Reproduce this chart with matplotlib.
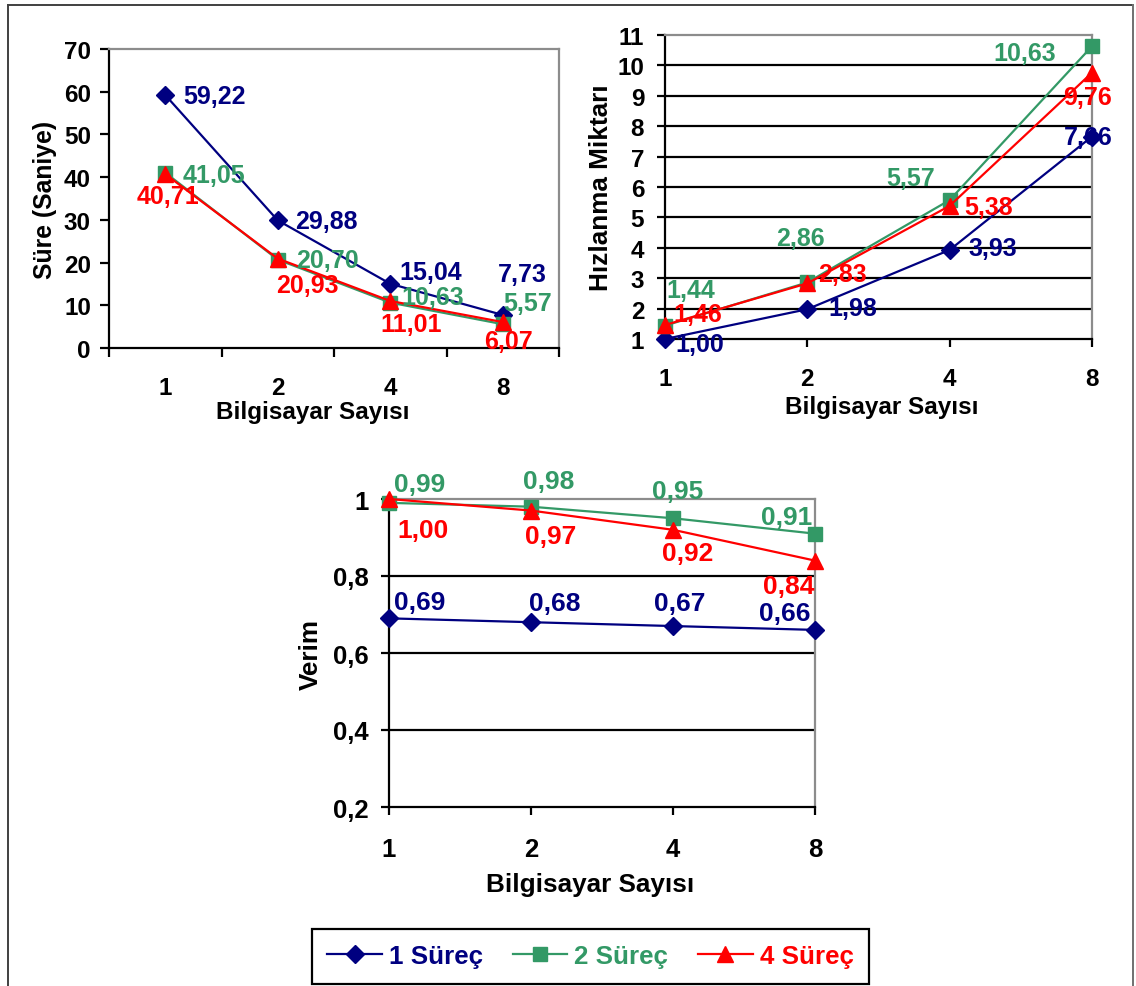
import matplotlib
matplotlib.use("Agg")
import matplotlib.pyplot as plt
from matplotlib.lines import Line2D

plt.rcParams['font.family'] = ['Liberation Sans', 'DejaVu Sans']
plt.rcParams['font.weight'] = 'bold'

W, H, DPI = 1136, 987, 100
PT = 72.0 / DPI  # pixels -> points

# ---- data ----
categories = ['1', '2', '4', '8']
series_names = ['1 Süreç', '2 Süreç', '4 Süreç']

sure_1 = [59.22, 29.88, 15.04, 7.73]
sure_2 = [41.05, 20.70, 10.63, 5.57]
sure_4 = [40.71, 20.93, 11.01, 6.07]

hiz_1 = [1.00, 1.98, 3.93, 7.66]
hiz_2 = [1.44, 2.86, 5.57, 10.63]
hiz_4 = [1.46, 2.83, 5.38, 9.76]

verim_1 = [0.69, 0.68, 0.67, 0.66]
verim_2 = [0.99, 0.98, 0.95, 0.91]
verim_4 = [1.00, 0.97, 0.92, 0.84]

sure_ticks = [0, 10, 20, 30, 40, 50, 60, 70]
hiz_ticks = [1, 2, 3, 4, 5, 6, 7, 8, 9, 10, 11]
verim_ticks = [0.2, 0.4, 0.6, 0.8, 1.0]
verim_tick_labels = ['0,2', '0,4', '0,6', '0,8', '1']

# ---- styles ----
colors = ['#000080', '#339966', '#FF0000']
markers = ['D', 's', '^']
msizes = [9.5, 10, 11.5]
LW = 1.6

# data-label offsets in pixels (dx to the right, dy downward), per series
sure_offsets = [
    [(49, 1), (49, 1), (40, -12), (20, -41)],
    [(49, 2), (50, 0), (42, -6), (25, -21)],
    [(3, 22), (30, 26), (21, 23), (6, 19)],
]
hiz_offsets = [
    [(35, 5), (45, -1), (43, -2), (-4, 0)],
    [(26, -36), (-7, -44), (-39, -22), (-67, 7)],
    [(33, -11), (35, -9), (39, 1), (-5, 24)],
]
verim_offsets = [
    [(31, -16), (24, -19), (7, -23), (-30, -17)],
    [(31, -19), (18, -26), (5, -27), (-28, -17)],
    [(34, 31), (20, 25), (15, 23), (-26, 25)],
]

fig = plt.figure(figsize=(W / DPI, H / DPI), dpi=DPI)


def add_axes_px(left, top, right, bottom):
    return fig.add_axes([left / W, 1 - bottom / H, (right - left) / W, (bottom - top) / H])


def fmt(v):
    return f"{v:.2f}".replace('.', ',')


def style_frame(ax):
    for s in ('left', 'bottom'):
        ax.spines[s].set_color('black')
        ax.spines[s].set_linewidth(LW)
    for s in ('top', 'right'):
        ax.spines[s].set_color('#8c8c8c')
        ax.spines[s].set_linewidth(LW)
    ax.set_facecolor('white')


def draw_series(ax, values_list, offsets, fs):
    x = list(range(len(categories)))
    for i, vals in enumerate(values_list):
        ax.plot(x, vals, color=colors[i], lw=LW, marker=markers[i], ms=msizes[i],
                mfc=colors[i], mec=colors[i], clip_on=False, zorder=3 + i)
    for i, vals in enumerate(values_list):
        for j, v in enumerate(vals):
            dx, dy = offsets[i][j]
            ax.annotate(fmt(v), (x[j], v), xytext=(dx * PT, -dy * PT),
                        textcoords='offset points', ha='center', va='center',
                        color=colors[i], fontsize=fs, fontweight='bold',
                        annotation_clip=False, zorder=10)


def interior_grid(ax, ticks):
    for t in ticks[1:-1]:
        ax.axhline(t, color='black', lw=LW, zorder=1)


# ---- Süre ----
ax1 = add_axes_px(109, 50, 559, 349)
style_frame(ax1)
ax1.set_xlim(-0.5, 3.5)
ax1.set_ylim(sure_ticks[0], sure_ticks[-1])
ax1.set_xticks([-0.5, 0.5, 1.5, 2.5, 3.5])
ax1.set_xticklabels([])
ax1.set_xticks(range(4), minor=True)
ax1.set_xticklabels(categories, minor=True)
ax1.tick_params(axis='x', which='major', direction='out', length=6.5, width=LW)
ax1.tick_params(axis='x', which='minor', length=0, pad=20, labelsize=17.5)
ax1.set_yticks(sure_ticks)
ax1.tick_params(axis='y', direction='out', length=6.5, width=LW, pad=6.5, labelsize=17.5)
draw_series(ax1, [sure_1, sure_2, sure_4], sure_offsets, 18)
ax1.set_xlabel('Bilgisayar Sayısı', fontsize=17.5, fontweight='bold', va='center', ha='center')
ax1.xaxis.set_label_coords((313 - 109) / 450, (349 - 413) / 299)
ax1.set_ylabel('Süre (Saniye)', fontsize=17.8, fontweight='bold', va='center', ha='center')
ax1.yaxis.set_label_coords((45 - 109) / 450, 0.5)

# ---- Hızlanma ----
ax2 = add_axes_px(665, 36, 1092, 340)
style_frame(ax2)
ax2.set_xlim(0, 3)
ax2.set_ylim(hiz_ticks[0], hiz_ticks[-1])
interior_grid(ax2, hiz_ticks)
ax2.set_xticks(range(4))
ax2.set_xticklabels(categories)
ax2.tick_params(axis='x', direction='out', length=6, width=LW, pad=14, labelsize=17.5)
ax2.set_yticks(hiz_ticks)
ax2.tick_params(axis='y', direction='out', length=6, width=LW, pad=9, labelsize=17.5)
draw_series(ax2, [hiz_1, hiz_2, hiz_4], hiz_offsets, 18)
ax2.set_xlabel('Bilgisayar Sayısı', fontsize=17.5, fontweight='bold', va='center', ha='center')
ax2.xaxis.set_label_coords((882 - 665) / 427, (340 - 408) / 304)
ax2.set_ylabel('Hızlanma Miktarı', fontsize=18.8, fontweight='bold', va='center', ha='center')
ax2.yaxis.set_label_coords((601 - 665) / 427, 0.5)

# ---- Verim ----
ax3 = add_axes_px(389, 500, 815, 808)
style_frame(ax3)
ax3.set_xlim(0, 3)
ax3.set_ylim(verim_ticks[0], verim_ticks[-1])
interior_grid(ax3, verim_ticks)
ax3.set_xticks(range(4))
ax3.set_xticklabels(categories)
ax3.tick_params(axis='x', direction='out', length=6, width=LW, pad=15.5, labelsize=18.5)
ax3.set_yticks(verim_ticks)
ax3.set_yticklabels(verim_tick_labels)
ax3.tick_params(axis='y', direction='out', length=6, width=LW, pad=8.5, labelsize=18.5)
draw_series(ax3, [verim_1, verim_2, verim_4], verim_offsets, 19)
ax3.set_xlabel('Bilgisayar Sayısı', fontsize=18.8, fontweight='bold', va='center', ha='center')
ax3.xaxis.set_label_coords((590 - 389) / 426, (808 - 885) / 308)
ax3.set_ylabel('Verim', fontsize=18.8, fontweight='bold', va='center', ha='center')
ax3.yaxis.set_label_coords((311 - 389) / 426, 0.5)

# ---- legend ----
handles = [Line2D([], [], color=colors[i], lw=LW, marker=markers[i], ms=msizes[i],
                  mfc=colors[i], mec=colors[i]) for i in range(3)]
leg = fig.legend(handles, series_names, loc='center', bbox_to_anchor=(590.5 / W, 1 - 957.5 / H),
                 ncol=3, frameon=True, fancybox=False, edgecolor='black', framealpha=1,
                 handlelength=2.1, handletextpad=0.27, columnspacing=1.15, borderpad=0.6,
                 prop={'size': 18.7, 'weight': 'bold'})
leg.get_frame().set_linewidth(LW)
for txt, c in zip(leg.get_texts(), colors):
    txt.set_color(c)

# ---- outer border ----
fig.add_artist(Line2D([8 / W, 8 / W], [0, 1 - 6 / H], transform=fig.transFigure,
                      color='#404040', lw=1.4))
fig.add_artist(Line2D([8 / W, 1133 / W], [1 - 6 / H, 1 - 6 / H], transform=fig.transFigure,
                      color='#404040', lw=1.4))
fig.add_artist(Line2D([1133 / W, 1133 / W], [0, 1 - 6 / H], transform=fig.transFigure,
                      color='#707070', lw=1.4))

fig.savefig('out.png', dpi=DPI, facecolor='white')
